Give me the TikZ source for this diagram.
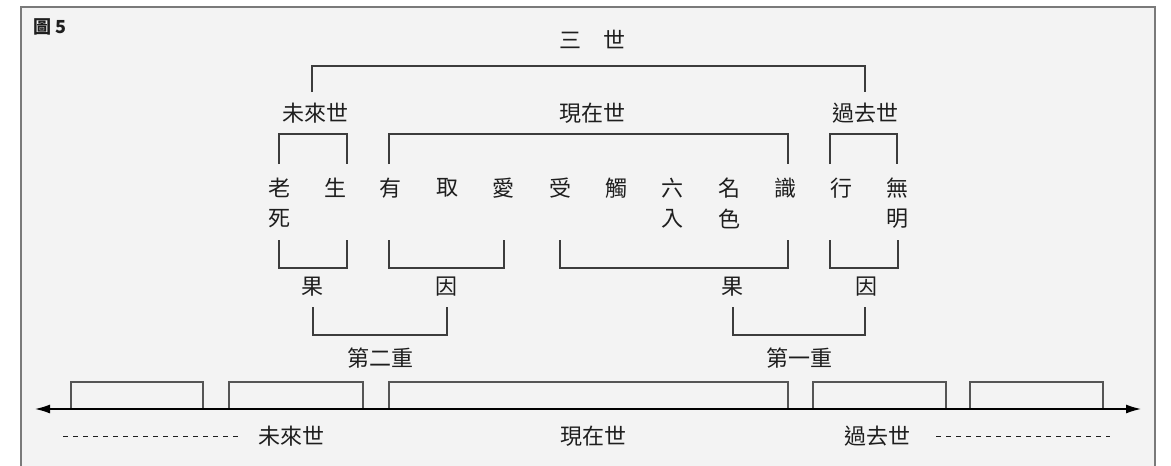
\documentclass[tikz,border=0pt]{standalone}
\usepackage{fontspec}
\newfontfamily\cjk{Noto Sans CJK TC}
\usetikzlibrary{arrows.meta}
\definecolor{panel}{HTML}{F3F3F3}
\definecolor{frame}{HTML}{7A7A7A}
\definecolor{ink}{HTML}{1E1E1E}
\definecolor{brk}{HTML}{3C3C3C}
\definecolor{box}{HTML}{555555}
\begin{document}
\begin{tikzpicture}[x=1pt,y=-1pt,
  lbl/.style={font=\cjk\fontsize{22}{26}\selectfont, inner sep=0pt, text=ink},
  ttl/.style={font=\cjk\bfseries\fontsize{18}{21}\selectfont, inner sep=0pt, text=ink, anchor=west},
  brace/.style={draw=brk, line width=1.1pt},
  era/.style={draw=box, line width=1.1pt},
  axis/.style={draw=black, line width=1.3pt, {Latex[length=15pt,width=9pt]}-{Latex[length=15pt,width=9pt]}},
  dots/.style={draw=ink, line width=1pt, dash pattern=on 5pt off 5pt}
]
\useasboundingbox (0,0) rectangle (1171,466);
\fill[panel] (21,7) rectangle (1155,470);
\draw[frame, line width=1.3pt] (21,470) -- (21,7) -- (1155,7) -- (1155,470);

\node[ttl] (fig) at (33,27) {圖 5};

% titles
\node[lbl] (sanshi) at (592,39) {三　世};
\node[lbl] (wl1) at (315,113) {未來世};
\node[lbl] (xz1) at (592,113) {現在世};
\node[lbl] (gq1) at (865,113) {過去世};

% twelve links
\node[lbl] (lao) at (279,188) {老};
\node[lbl] (si)  at (279,219) {死};
\node[lbl] (sheng) at (335,188) {生};
\node[lbl] (you) at (390,188) {有};
\node[lbl] (qu) at (447,188) {取};
\node[lbl] (ai) at (503,188) {愛};
\node[lbl] (shou) at (560,188) {受};
\node[lbl] (chu) at (616,188) {觸};
\node[lbl] (liu) at (672,188) {六};
\node[lbl] (ru) at (672,219) {入};
\node[lbl] (ming) at (729,188) {名};
\node[lbl] (se) at (729,219) {色};
\node[lbl] (shi) at (785,188) {識};
\node[lbl] (xing) at (841,188) {行};
\node[lbl] (wu) at (897,188) {無};
\node[lbl] (mg) at (897,219) {明};

% cause / effect
\node[lbl] (guo1) at (312,287) {果};
\node[lbl] (yin1) at (446,287) {因};
\node[lbl] (guo2) at (732,287) {果};
\node[lbl] (yin2) at (866,287) {因};
\node[lbl] (di2) at (380,358) {第二重};
\node[lbl] (di1) at (799,358) {第一重};

% bottom labels
\node[lbl] (wl2) at (291,436) {未來世};
\node[lbl] (xz2) at (593,436) {現在世};
\node[lbl] (gq2) at (877,436) {過去世};

% top bracket
\draw[brace] (312,92) -- (312,66) -- (865,66) -- (865,92);
% era brackets
\draw[brace] (279,164) -- (279,134) -- (347,134) -- (347,164);
\draw[brace] (389,164) -- (389,134) -- (788,134) -- (788,164);
\draw[brace] (830,164) -- (830,134) -- (897,134) -- (897,164);
% cause/effect brackets
\draw[brace] (279,240) -- (279,268) -- (347,268) -- (347,240);
\draw[brace] (389,240) -- (389,268) -- (504,268) -- (504,240);
\draw[brace] (560,240) -- (560,268) -- (788,268) -- (788,240);
\draw[brace] (830,240) -- (830,268) -- (898,268) -- (898,240);
% layer brackets
\draw[brace] (313,307) -- (313,335) -- (447,335) -- (447,307);
\draw[brace] (733,307) -- (733,335) -- (865,335) -- (865,307);

% timeline
\draw[era] (71,409) -- (71,382) -- (203,382) -- (203,409);
\draw[era] (229,409) -- (229,382) -- (363,382) -- (363,409);
\draw[era] (389,409) -- (389,382) -- (788,382) -- (788,409);
\draw[era] (813,409) -- (813,382) -- (946,382) -- (946,409);
\draw[era] (970,409) -- (970,382) -- (1103,382) -- (1103,409);
\coordinate (axl) at (35,409);
\coordinate (axr) at (1141,409);
\draw[axis] (axl) -- (axr);

% dashed continuations
\coordinate (dl1) at (63,436);
\coordinate (dl2) at (238,436);
\coordinate (dr1) at (936,436);
\coordinate (dr2) at (1110,436);
\draw[dots] (dl1) -- (dl2);
\draw[dots] (dr1) -- (dr2);
\end{tikzpicture}
\end{document}
